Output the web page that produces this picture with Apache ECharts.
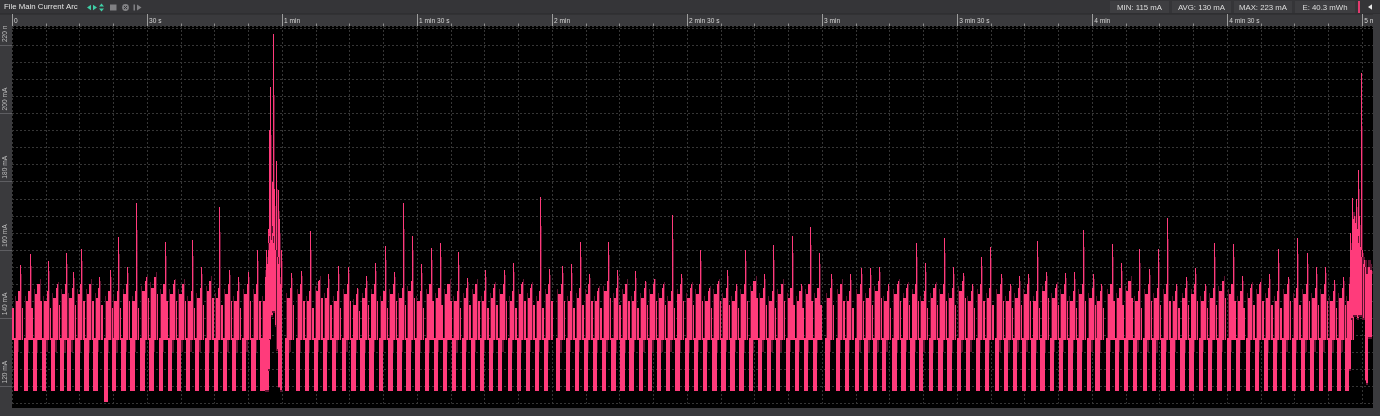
<!DOCTYPE html>
<html><head><meta charset="utf-8">
<script src="https://cdn.jsdelivr.net/npm/echarts@6/dist/echarts.min.js"></script>
<style>html,body{margin:0;padding:0;background:#000;overflow:hidden}#c{width:1380px;height:416px}</style>
</head><body><div id="c"></div>
<script>
// ---- data ----
// start time (s) of each periodic pulse (low phase begins)
const pulseStart = [
 -1.65,
 0.4, 2.6, 4.6, 6.7, 8.7, 10.7, 12.2, 14.1, 16.1, 18.1, 20.4, 22.2, 24.3, 26.3, 28.5, 30.5, 32.6, 34.7, 36.7, 38.7, 40.7, 42.8, 44.8, 46.9, 48.9, 51.1, 53.2, 55.2,
 60.7, 63.0, 65.0, 67.0, 69.0, 71.1, 73.3, 75.4, 77.4, 79.4, 81.5, 83.6, 85.6, 87.6, 89.6, 91.7, 93.7, 95.7, 97.8, 99.9, 101.9, 103.9, 105.9, 108.0, 110.1, 112.1, 114.1, 116.1, 118.1,
 120.9, 123.0, 125.0, 127.0, 129.0, 131.1, 133.2, 135.2, 137.2, 139.3, 141.3, 143.3, 145.3, 147.4, 149.5, 151.5, 153.5, 155.6, 157.6, 159.6, 161.6, 163.7, 165.8, 167.8, 169.8, 171.9, 173.9, 175.9, 177.9,
 180.7, 183.0, 185.0, 187.3, 189.3, 191.3, 193.3, 195.6, 197.6, 199.6, 201.5, 203.7, 205.8, 207.8, 210.0, 212.0, 214.1, 216.1, 218.4, 220.4, 222.4, 224.4, 226.5, 228.5, 230.6, 232.6, 234.7, 236.7, 238.9, 240.7, 243.0, 245.0, 247.0, 249.1, 251.3, 253.3, 255.4, 257.4, 259.6, 261.6, 263.7, 265.7, 267.8, 269.9, 271.9, 274.1, 276.1, 278.1, 280.1, 282.2, 284.3,
 286.4, 288.4, 290.4, 292.4, 294.4, 296.2
];
// lowest current of each pulse's low phase (mA)
const lowFloor = [
 118.6,
 118.6, 118.6, 118.6, 118.6, 118.6, 118.6, 118.6, 118.6, 118.6, 118.6, 115.6, 118.6, 118.6, 118.6, 118.6, 118.6, 118.6, 118.6, 118.6, 118.6, 118.6, 118.6, 118.6, 118.6, 118.6, 118.6, 118.6, 118.6,
 118.6, 118.6, 118.6, 118.6, 118.6, 118.6, 118.6, 118.6, 118.6, 118.6, 118.6, 118.6, 118.6, 118.6, 118.6, 118.6, 118.6, 118.6, 118.6, 118.6, 118.6, 118.6, 118.6, 118.6, 118.6, 118.6, 118.6, 118.6, 118.6,
 118.6, 118.6, 118.6, 118.6, 118.6, 118.6, 118.6, 118.6, 118.6, 118.6, 118.6, 118.6, 118.6, 118.6, 118.6, 118.6, 118.6, 118.6, 118.6, 118.6, 118.6, 118.6, 118.6, 118.6, 118.6, 118.6, 118.6, 118.6, 118.6,
 118.6, 118.6, 118.6, 118.6, 118.6, 118.6, 118.6, 118.6, 118.6, 118.6, 118.6, 118.6, 118.6, 118.6, 118.6, 118.6, 118.6, 118.6, 118.6, 118.6, 118.6, 118.6, 118.6, 118.6, 118.6, 118.6, 118.6, 118.6, 118.6, 118.6, 118.6, 118.6, 118.6, 118.6, 118.6, 118.6, 118.6, 118.6, 118.6, 118.6, 118.6, 118.6, 118.6, 118.6, 118.6, 118.6, 118.6, 118.6, 118.6, 118.6, 118.6,
 118.6, 118.6, 118.6, 118.6, 118.6, 118.6
];
// top of the dense high-phase band (mA)
const bandTop = [
 148,
 148,148,150,148,149,150,149,150,150,149,148,148,150,148,151,152,150,150,150,148,149,151,149,150,148,150,150,148,
 149,150,148,151,149,148,150,147,149,150,148,150,149,151,148,150,149,150,148,149,150,148,149,150,148,150,149,148,150,
 150,148,149,150,148,151,149,150,148,149,150,149,148,150,149,150,148,150,149,148,150,151,149,148,150,149,148,150,149,
 149,150,148,150,149,151,148,150,149,150,148,149,150,149,151,148,150,149,150,148,149,150,148,151,149,150,148,150,149,148,150,149,151,148,150,149,150,148,149,150,148,149,151,150,148,149,150,149,148,150,149,
 150,149,150,148,149,148
];
// thin spike peak of each pulse (mA)
const spikePeak = [
 154,
 155.6, 158.8, 150, 156.8, 150, 159, 153.6, 160.4, 149.5, 152.2, 154, 163.8, 155.1, 173.8, 152, 151.7, 162.4, 151.2, 149, 162.9, 155.1, 150, 172.5, 154, 152, 153.6, 160, 150,
 153.3, 153.9, 165.6, 151.2, 153.1, 155.3, 154.9, 149, 152.4, 156.1, 161.2, 153.6, 173.8, 164.1, 155.9, 160.5, 161.9, 150, 159.5, 151.7, 150, 154.1, 150, 154.1, 156.1, 150.7, 150, 175.4, 154.4,
 155.3, 155.9, 162.4, 153.1, 149, 162.4, 154.1, 150, 153.9, 151, 151.5, 150, 170.2, 153.1, 150, 160, 149, 151, 154.1, 150, 160, 151, 153, 161.4, 150, 164.1, 150, 166.6, 159,
 153.1, 150, 153, 154.6, 154.6, 154.9, 150, 151, 150, 161.9, 156.3, 150, 163.6, 155.1, 153.3, 150, 157.9, 160.8, 153.1, 150, 152.4, 153.1, 162.7, 153.6, 150, 153.3, 153.6, 165.8, 152.9, 150, 161.7, 156.3, 150, 160.2, 154.3, 160.4, 169.4, 150, 152.2, 154.6, 150, 161.9, 151, 161.7, 152.4, 150, 150.7, 153.1, 160.2, 152, 163.6,
 159, 155.1, 155.1, 151.2, 152.2, 149
];
// two bursts (around 57 s and at the end): time, min, dense max, spike
const burstTime  = [56.4, 56.8, 57.1, 57.4, 57.8, 58.0, 58.3, 58.7, 59.0, 59.3, 59.7,
                    297.3, 297.8, 298.2, 298.7, 299.0, 299.3, 299.7, 300.0, 300.3, 300.8, 301.1, 301.6, 302.0];
const burstLow   = [119, 119, 125, 134, 141, 142, 142, 138, 131, 120, 119,
                    125, 140, 141, 141, 140, 141, 141, 141, 140, 122, 121, 134.5, 134.5];
const burstHigh  = [152, 156, 160, 162, 163, 165, 162, 160, 158, 156, 150,
                    150, 160, 169, 168, 166, 162, 161, 158, 156, 155, 153, 155, 154];
const burstSpike = [160, 166, 195, 207.7, 180, 223.2, 178, 186, 177.6, 169, 160,
                    165, 175.3, 170, 175, 183.5, 170, 211.8, 160, 157, 155, 153, 155, 154];

const timeTickValues = [0, 30, 60, 90, 120, 150, 180, 210, 240, 270, 300];
const timeTickLabels = ['0', '30 s', '1 min', '1 min 30 s', '2 min', '2 min 30 s', '3 min', '3 min 30 s', '4 min', '4 min 30 s', '5 min'];
const currentTickValues = [120, 140, 160, 180, 200, 220];
const currentTickLabels = ['120 mA', '140 mA', '160 mA', '180 mA', '200 mA', '220 mA'];
const statTexts = ['MIN: 115 mA', 'AVG: 130 mA', 'MAX: 223 mA', 'E: 40.3 mWh'];
const titleText = 'File Main Current Arc';

// ---- styling ----
const PINK = '#ff3b7b', MAROON = '#5e1330';
const LOW_TOP = 134.2, HIGH_BASE = 133.6;
const FONT = '"Liberation Sans", Arial, sans-serif';
const STRIP = '#3a3a3d';

function rectFor(api, t0, t1, v0, v1, fill) {
  const a = api.coord([t0, v1]), b = api.coord([t1, v0]);
  const x = Math.round(a[0]), x2 = Math.round(b[0]);
  const y = Math.round(a[1]), y2 = Math.round(b[1]);
  return {type: 'rect', shape: {x: x, y: y, width: Math.max(1, x2 - x), height: Math.max(1, y2 - y)}, style: {fill: fill}};
}
function spikeFor(api, t, base, peak, ch) {
  if (peak <= base) return;
  const xs = Math.round(api.coord([t, base])[0]);
  const yb = Math.round(api.coord([t, base])[1]);
  const yt = Math.round(api.coord([t, peak])[1]);
  const cut = Math.round((yb - yt) * 0.3);
  ch.push({type: 'rect', shape: {x: xs + 1, y: yt + cut, width: 1, height: Math.max(1, yb - yt - cut)}, style: {fill: MAROON}});
  ch.push({type: 'rect', shape: {x: xs, y: yt, width: 1, height: Math.max(1, yb - yt)}, style: {fill: PINK}});
}

const pulses = pulseStart.map((t, i) => [t, lowFloor[i], bandTop[i], spikePeak[i]]);
const bursts = burstTime.map((t, i) => [t, burstLow[i], burstHigh[i], burstSpike[i]]);

function renderPulse(params, api) {
  const t = api.value(0), fl = api.value(1), top = api.value(2), sp = api.value(3);
  const ch = [];
  // darker min/max envelope pieces
  ch.push(rectFor(api, t + 0.26, t + 0.46, HIGH_BASE, top - 1.5, MAROON));
  ch.push(rectFor(api, t + 1.52, t + 1.72, HIGH_BASE, top + 1.5, MAROON));
  ch.push(rectFor(api, t + 0.95, t + 1.25, 130, LOW_TOP, MAROON));
  // bright average trace (high phase)
  ch.push(rectFor(api, t + 0.46, t + 1.04, HIGH_BASE, top - 3, PINK));
  ch.push(rectFor(api, t + 1.04, t + 1.52, HIGH_BASE, top, PINK));
  ch.push(rectFor(api, t + 1.72, t + 2.02, HIGH_BASE, top - 5, PINK));
  // low phase column
  ch.push(rectFor(api, t, t + 0.95, fl, LOW_TOP, PINK));
  spikeFor(api, t + 1.3, top - 1, sp, ch);
  return {type: 'group', children: ch};
}
function renderBurst(params, api) {
  const t = api.value(0), lo = api.value(1), hi = api.value(2), sp = api.value(3);
  const ch = [];
  ch.push(rectFor(api, t - 0.25, t + 0.25, lo - 0.5, hi + 2, MAROON));
  ch.push(rectFor(api, t - 0.2, t + 0.2, lo, hi, PINK));
  spikeFor(api, t, hi - 1, sp, ch);
  return {type: 'group', children: ch};
}

const dashed = {show: true, lineStyle: {color: '#363636', width: 1, type: [2, 2]}};
const chart = echarts.init(document.getElementById('c'), null, {renderer: 'canvas'});

const graphics = [
  {type: 'rect', z: 5, shape: {x: 0, y: 0, width: 1380, height: 14}, style: {fill: '#353538'}},
  {type: 'rect', z: 5, shape: {x: 0, y: 14, width: 1380, height: 12}, style: {fill: STRIP}},
  {type: 'rect', z: 5, shape: {x: 0, y: 13.5, width: 1380, height: 1}, style: {fill: '#2a2a2c'}},
  {type: 'rect', z: 3, shape: {x: 0, y: 26, width: 12, height: 390}, style: {fill: STRIP}},
  {type: 'rect', z: 3, shape: {x: 0, y: 408, width: 1380, height: 8}, style: {fill: STRIP}},
  {type: 'rect', z: 11, shape: {x: 1373, y: 14, width: 7, height: 402}, style: {fill: STRIP}},
  {type: 'text', z: 20, x: 4, y: 7, style: {text: titleText, fill: '#e4e4e4', font: '7.8px ' + FONT, verticalAlign: 'middle'}},
  // icons
  {type: 'polygon', z: 20, shape: {points: [[87, 7.5], [91, 4.8], [91, 10.2]]}, style: {fill: '#3fcfa6'}},
  {type: 'polygon', z: 20, shape: {points: [[97, 7.5], [93, 4.8], [93, 10.2]]}, style: {fill: '#3fcfa6'}},
  {type: 'polygon', z: 20, shape: {points: [[101.5, 3.5], [104, 6.5], [99, 6.5]]}, style: {fill: '#3fcfa6'}},
  {type: 'polygon', z: 20, shape: {points: [[101.5, 11.5], [104, 8.5], [99, 8.5]]}, style: {fill: '#3fcfa6'}},
  {type: 'rect', z: 20, shape: {x: 110, y: 4.5, width: 6.5, height: 6}, style: {fill: '#808083'}},
  {type: 'circle', z: 20, shape: {cx: 125.5, cy: 7.5, r: 3.4}, style: {fill: '#808083'}},
  {type: 'line', z: 21, shape: {x1: 124, y1: 6, x2: 127, y2: 9}, style: {stroke: '#353538', lineWidth: 1}},
  {type: 'line', z: 21, shape: {x1: 127, y1: 6, x2: 124, y2: 9}, style: {stroke: '#353538', lineWidth: 1}},
  {type: 'rect', z: 20, shape: {x: 133.5, y: 4.5, width: 1.5, height: 6}, style: {fill: '#808083'}},
  {type: 'polygon', z: 20, shape: {points: [[137, 4.5], [141.5, 7.5], [137, 10.5]]}, style: {fill: '#808083'}},
  // marker + collapse arrow
  {type: 'rect', z: 20, shape: {x: 1358, y: 1, width: 2, height: 12}, style: {fill: '#e23a6e'}},
  {type: 'polygon', z: 20, shape: {points: [[1368, 7], [1372, 4.3], [1372, 9.7]]}, style: {fill: '#e8e8e8'}}
];
const boxes = [[1110, 1169], [1172, 1231], [1234, 1292], [1295, 1355]];
statTexts.forEach((s, i) => {
  const b = boxes[i];
  graphics.push({type: 'rect', z: 19, shape: {x: b[0], y: 1, width: b[1] - b[0], height: 12}, style: {fill: '#3e3e41'}});
  graphics.push({type: 'text', z: 20, x: (b[0] + b[1]) / 2, y: 7.5, style: {text: s, fill: '#dedede', font: '7.8px ' + FONT, align: 'center', verticalAlign: 'middle'}});
});

chart.setOption({
  animation: false,
  backgroundColor: '#000',
  grid: {left: 12, top: 26, width: 1361, height: 377.6, containLabel: false, outerBoundsMode: 'none'},
  xAxis: [
    {type: 'value', min: 0, max: 302.4, interval: 7.5, position: 'top', z: 0,
     axisLine: {show: false}, axisTick: {show: false}, axisLabel: {show: false}, splitLine: dashed},
    {type: 'value', min: 0, max: 302.4, interval: 7.5, position: 'top', z: 10,
     axisLine: {show: false}, axisTick: {show: true, length: 2.5, lineStyle: {color: '#8e8e8e'}},
     axisLabel: {show: false}, splitLine: {show: false}},
    {type: 'value', min: 0, max: 302.4, position: 'top', z: 10,
     axisLine: {show: false},
     axisTick: {show: true, customValues: timeTickValues, length: 12, lineStyle: {color: '#9c9c9c'}},
     axisLabel: {show: true, customValues: timeTickValues, showMinLabel: true, showMaxLabel: true,
       formatter: v => timeTickLabels[timeTickValues.indexOf(v)],
       align: 'left', verticalAlign: 'middle', margin: 5, padding: [0, 0, 0, 2],
       color: '#d4d4d4', fontSize: 6.6, fontFamily: FONT},
     splitLine: {show: false}}
  ],
  yAxis: [
    {type: 'value', min: 115, max: 225.6, interval: 5, z: 0,
     axisLine: {show: false}, axisTick: {show: false}, axisLabel: {show: false}, splitLine: dashed},
    {type: 'value', min: 115, max: 225.6, z: 4, position: 'left',
     axisLine: {show: false},
     axisTick: {show: true, customValues: currentTickValues, length: 12, lineStyle: {color: '#5e5e62'}},
     axisLabel: {show: true, customValues: currentTickValues, showMinLabel: true, showMaxLabel: true,
       formatter: v => currentTickLabels[currentTickValues.indexOf(v)],
       rotate: 90, align: 'left', verticalAlign: 'bottom', margin: 3.5, padding: [0, 0, 0, 3],
       color: '#bdbdbd', fontSize: 6.6, fontFamily: FONT},
     splitLine: {show: false}}
  ],
  graphic: graphics,
  series: [
    {type: 'custom', name: 'pulses', renderItem: renderPulse, data: pulses, xAxisIndex: 0, yAxisIndex: 0,
     encode: {x: 0, y: 1}, z: 2, silent: true, clip: true},
    {type: 'custom', name: 'bursts', renderItem: renderBurst, data: bursts, xAxisIndex: 0, yAxisIndex: 0,
     encode: {x: 0, y: 1}, z: 2, silent: true, clip: true}
  ]
});
</script>
</body></html>
